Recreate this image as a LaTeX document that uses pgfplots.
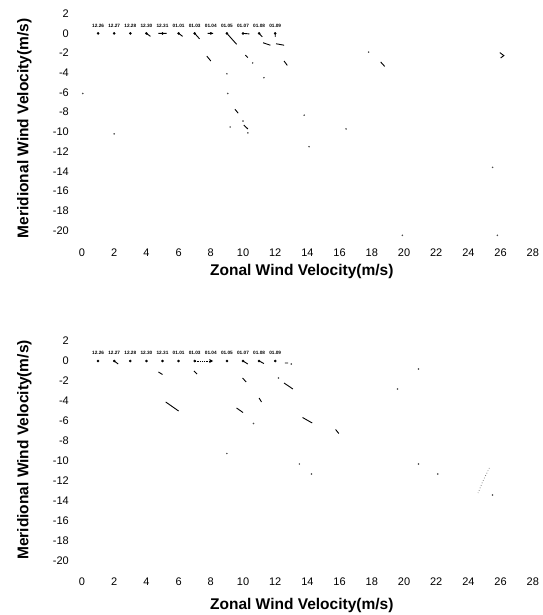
\documentclass[border=0pt]{standalone}
\usepackage{fontspec}
\setmainfont{Liberation Sans}
\usepackage{pgfplots}
\pgfplotsset{compat=1.18}

% date labels and start points (same for both panels)
\pgfplotstableread{
x y label
1 0.8 12.26
2 0.8 12.27
3 0.8 12.28
4 0.8 12.30
5 0.8 12.31
6 0.8 01.01
7 0.8 01.03
8 0.8 01.04
9 0.8 01.05
10 0.8 01.07
11 0.8 01.08
12 0.8 01.09
}\datelabels

\pgfplotsset{
  windax/.style={
    x=16.1pt, y=#1,
    anchor=origin,
    xmin=-0.6, xmax=28.6, ymin=-21, ymax=2.6,
    axis line style={draw=none},
    major tick length=0pt,
    xtick={0,2,...,28}, ytick={-20,-18,...,2},
    tick label style={font=\fontsize{11}{11}\selectfont},
    /pgf/number format/assume math mode=true,
    xlabel={Zonal Wind Velocity(m/s)},
    ylabel={Meridional Wind Velocity(m/s)},
    label style={font=\fontsize{15.5}{16}\selectfont\bfseries},
    clip=false,
    unbounded coords=jump,
  },
  seg/.style={black, line width=0.9pt},
  dots/.style={only marks, mark=*, mark size=0.55pt, black!70},
  starts/.style={only marks, mark=*, mark size=1.1pt, black},
  dates/.style={only marks, mark=none, nodes near coords, point meta=explicit symbolic,
    nodes near coords align={center},
    every node near coord/.append style={font=\fontsize{4.7}{4.7}\selectfont\bfseries, inner sep=0pt}},
}

\begin{document}
\begin{tikzpicture}[x=1pt,y=1pt]

% ---------- upper panel ----------
\begin{axis}[windax=9.85pt, at={(82pt,-33.4pt)},
  xticklabel style={yshift=-5pt},
  xlabel style={at={(axis description cs:0.488,-0.1525)}, anchor=base},
  ylabel style={at={(axis description cs:-0.102,0.481)}, anchor=center}]
\addplot[dates] table[x=x, y=y, meta=label] {\datelabels};
\addplot[starts] coordinates {(1,0)(2,0)(3,0)(4,0)(5,0)(6,0)(7,0)(8,0)(9,0)(10,0)(11,0)(12,0)};
\addplot[seg] table {
x y
4 0
4.25 -0.3
nan nan
4.75 0
5.25 0
nan nan
6 0
6.25 -0.3
nan nan
7 0
7.3 -0.55
nan nan
7.8 0
8.15 0
nan nan
9 0
9.6 -1.1
nan nan
10 0
10.4 -0.05
nan nan
11 0
11.2 -0.35
nan nan
12 0
12 -0.35
nan nan
11.25 -0.95
11.7 -1.2
nan nan
12.05 -1.05
12.55 -1.2
nan nan
7.75 -2.3
8.0 -2.8
nan nan
10.15 -2.2
10.3 -2.45
nan nan
12.55 -2.8
12.75 -3.25
nan nan
9.5 -7.7
9.7 -8.1
nan nan
10.05 -9.3
10.3 -9.7
nan nan
18.55 -2.9
18.8 -3.35
nan nan
25.95 -1.95
26.2 -2.25
26.0 -2.5
};
\addplot[dots] coordinates {(0.05,-6.1)(2.0,-10.2)(10.6,-3.0)(9.0,-4.1)(11.3,-4.5)
  (9.05,-6.1)(10.0,-8.9)(10.3,-10.1)(9.2,-9.5)(13.8,-8.3)(14.1,-11.5)(16.4,-9.7)
  (25.5,-13.6)(19.9,-20.5)(25.8,-20.5)(17.8,-1.9)};
\end{axis}

% ---------- lower panel ----------
\begin{axis}[windax=10pt, at={(82pt,-361pt)},
  xticklabel style={yshift=-3pt},
  xlabel style={at={(axis description cs:0.488,-0.161)}, anchor=base},
  ylabel style={at={(axis description cs:-0.102,0.513)}, anchor=center}]
\addplot[dates] table[x=x, y=y, meta=label] {\datelabels};
\addplot[starts] coordinates {(1,0)(2,0)(3,0)(4,0)(5,0)(6,0)(7,0)(8,0)(9,0)(10,0)(11,0)(12,0)};
\addplot[black, densely dotted, line width=0.8pt, -stealth] coordinates {(7,0)(8.15,0)};
\addplot[seg] table {
x y
2 0
2.25 -0.3
nan nan
10 0
10.3 -0.3
nan nan
11 0
11.3 -0.25
nan nan
12.6 -0.2
12.8 -0.2
nan nan
4.75 -1.1
5.0 -1.35
nan nan
6.95 -1.0
7.15 -1.3
nan nan
9.97 -1.7
10.2 -2.1
nan nan
12.55 -2.2
13.1 -2.8
nan nan
5.2 -4.1
6.0 -5.0
nan nan
11.0 -3.7
11.15 -4.1
nan nan
9.6 -4.7
10.0 -5.15
nan nan
13.7 -5.65
14.3 -6.2
nan nan
15.75 -6.85
15.95 -7.25
};
\addplot[black!60, dotted, line width=0.7pt] coordinates {(25.3,-10.7)(24.9,-12.0)(24.6,-13.2)};
\addplot[dots] coordinates {(13.0,-0.3)(12.2,-1.7)(19.6,-2.8)(10.65,-6.25)(9.0,-9.25)
  (13.5,-10.3)(14.25,-11.3)(20.9,-10.3)(22.1,-11.3)(25.5,-13.4)(20.9,-0.8)};
\end{axis}

\pgfresetboundingbox
\path[use as bounding box] (0pt,0pt) rectangle (542pt,-615pt);
\end{tikzpicture}
\end{document}
